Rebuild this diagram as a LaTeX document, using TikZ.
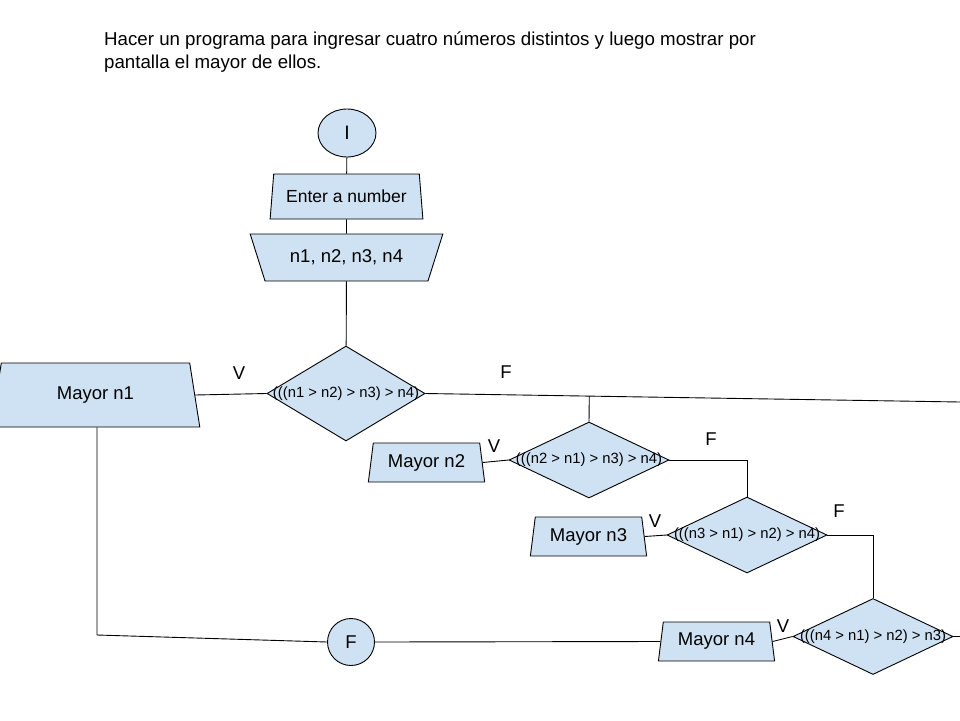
\documentclass[tikz,border=0pt]{standalone}
\usepackage{fontspec}
\setmainfont{Liberation Sans}
\usetikzlibrary{shapes.geometric,calc}
\definecolor{boxfill}{HTML}{CFE2F3}
\begin{document}
\begin{tikzpicture}[x=1pt,y=-1pt,
  shapebase/.style={draw=black,fill=boxfill,line width=0.9pt},
  term/.style={shapebase,ellipse,inner sep=0pt},
  trap/.style={shapebase,trapezium,trapezium stretches=true,inner sep=0pt,font=\fontsize{18.5}{20}\selectfont},
  dec/.style={shapebase,diamond,inner sep=0pt,minimum width=160pt,minimum height=76pt},
  dectext/.style={font=\fontsize{14.8}{16}\selectfont,inner sep=0pt},
  lbl/.style={font=\fontsize{18.5}{20}\selectfont,inner sep=0pt},
  conn/.style={draw=black,line width=0.9pt}]
\useasboundingbox (0,0) rectangle (960,720);
\clip (0,0) rectangle (960,720);
\fill[white] (0,0) rectangle (960,720);

\node[anchor=base west,align=left,font=\fontsize{18.7}{23}\selectfont,inner sep=0pt] (title) at (104,68)
  {Hacer un programa para ingresar cuatro números distintos y luego mostrar por\\pantalla el mayor de ellos.};

\node[term,minimum width=58pt,minimum height=48pt,font=\fontsize{19.5}{20}\selectfont] (start) at (347,133) {I};
\node[trap,font=\fontsize{17.5}{20}\selectfont,trapezium left angle=77,trapezium right angle=77,minimum width=153pt,minimum height=45pt] (enter) at (346.5,196.5) {Enter a number};
\node[trap,shape border rotate=180,trapezium left angle=56,trapezium right angle=56,minimum width=193pt,minimum height=47pt] (vars) at (346.5,257.5) {n1, n2, n3, n4};

\node[dec,minimum width=158pt,minimum height=95pt,label={[dectext]center:{(((n1 > n2) > n3) > n4)}}] (d1) at (346,393.5) {};
\node[dec,label={[dectext]center:{(((n2 > n1) > n3) > n4)}}] (d2) at (589,460) {};
\node[dec,label={[dectext]center:{(((n3 > n1) > n2) > n4)}}] (d3) at (747,535) {};
\node[dec,label={[dectext]center:{(((n4 > n1) > n2) > n3)}}] (d4) at (873,636.5) {};

\node[trap,trapezium left angle=76,trapezium right angle=76,minimum width=209pt,minimum height=64pt] (m1) at (95.5,395) {Mayor n1};
\node[trap,trapezium left angle=78,trapezium right angle=78,minimum width=117pt,minimum height=39pt] (m2) at (426.5,462.5) {Mayor n2};
\node[trap,trapezium left angle=78,trapezium right angle=78,minimum width=117pt,minimum height=39pt] (m3) at (588.5,536.5) {Mayor n3};
\node[trap,trapezium left angle=78,trapezium right angle=78,minimum width=117pt,minimum height=39pt] (m4) at (716.5,641.5) {Mayor n4};

\node[term,minimum width=47pt,minimum height=47pt,font=\fontsize{18.5}{20}\selectfont] (fin) at (351,642) {F};

\node[lbl] (v1) at (239,373) {V};
\node[lbl] (v2) at (494,446) {V};
\node[lbl] (v3) at (655,521) {V};
\node[lbl] (v4) at (783,626) {V};
\node[lbl] (f1) at (506,372) {F};
\node[lbl] (f2) at (711,439) {F};
\node[lbl] (f3) at (839,511) {F};

\draw[conn] (start) -- (enter);
\draw[conn] (enter) -- (vars);
\draw[conn] (vars) -- (d1);
\draw[conn] (m1.east) -- (d1.west);
\coordinate (edge1) at (960,402);
\draw[conn] (d1.east) -- (edge1);
\coordinate (j1) at ($(d1.east)!0.3065!(edge1)$);
\draw[conn] (j1) -- (d2.north);
\draw[conn] (m2.east) -- (d2.west);
\draw[conn] (d2.east) -| (d3.north);
\draw[conn] (m3.east) -- (d3.west);
\draw[conn] (d3.east) -| (d4.north);
\draw[conn] (m4.east) -- (d4.west);
\coordinate (edge4) at (960,636.5);
\draw[conn] (d4.east) -- (edge4);
\draw[conn] (m4.west) -- (fin.east);
\coordinate (corner) at (97,635);
\draw[conn] (fin.west) -- (corner) -- (corner |- m1.south);
\end{tikzpicture}
\end{document}
